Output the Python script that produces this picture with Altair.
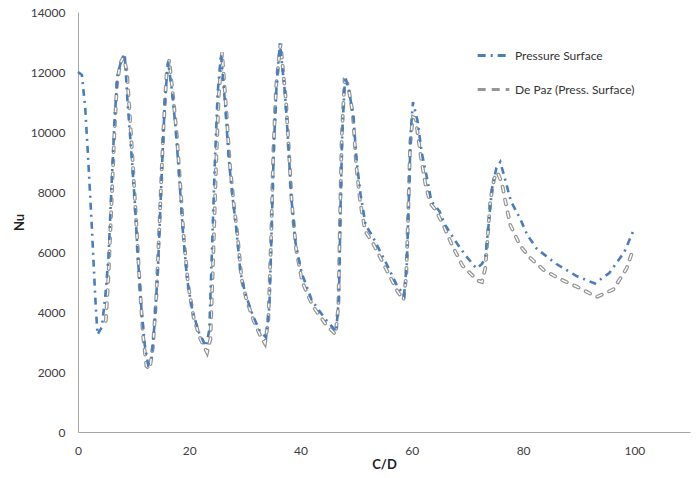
import altair as alt
import pandas as pd

# Pressure Surface (blue, dash-dot)
ps_x = [0, 0.7, 1.3, 1.8, 2.5, 3.1, 3.5, 4.3, 5.0, 5.5, 6.0, 6.6, 7.1, 7.8, 8.4, 8.9, 9.6, 10.2,
        10.8, 11.4, 12.0, 12.6, 13.2, 13.8, 14.4, 15.0, 15.6, 16.2, 17.0, 17.6, 18.2, 18.8, 19.6,
        20.6, 21.8, 23.0, 23.6, 24.1, 24.6, 25.1, 25.7, 26.5, 27.1, 27.8, 28.5, 29.2, 30.1, 31.4,
        32.6, 33.8, 34.4, 34.8, 35.2, 35.7, 36.3, 37.2, 37.8, 38.3, 39.1, 40.2, 42.0, 44.3, 46.4,
        46.9, 47.2, 47.5, 48.0, 48.7, 49.5, 50.1, 50.8, 51.7, 53.0, 55.2, 57.3, 58.6, 59.1, 59.5,
        59.8, 60.2, 61.0, 61.8, 62.8, 63.5, 65.0, 66.0, 67.7, 69.6, 71.6, 72.6, 73.2, 73.8, 74.4,
        75.2, 75.9, 76.8, 77.8, 79.5, 80.8, 82.5, 86.0, 89.6, 92.9, 95.5, 98.2, 99.8]
ps_y = [12000, 11900, 10800, 9200, 6800, 4500, 3250, 3500, 4700, 5900, 8100, 10500, 11900, 12400,
        12600, 11000, 9300, 7700, 5700, 4100, 2900, 2250, 2400, 3700, 5600, 8400, 11000, 12350,
        11200, 10000, 8500, 6800, 5100, 4000, 3300, 2850, 3400, 6200, 9000, 11300, 12600, 10800,
        9100, 7800, 6700, 5300, 4600, 3900, 3400, 3150, 4200, 6700, 9500, 11600, 12950, 11300,
        9600, 7900, 6300, 5300, 4400, 3800, 3350, 4500, 7600, 10000, 11850, 11400, 10500, 9000,
        7900, 6900, 6500, 5700, 4900, 4550, 5600, 8000, 10000, 11000, 10400, 9300, 8400, 7700,
        7350, 6900, 6400, 5900, 5450, 5600, 5800, 6900, 8100, 8800, 9000, 8400, 7700, 7100, 6550,
        6100, 5600, 5200, 4950, 5300, 6000, 6700]

# De Paz (Press. Surface) (gray, dashed)
dp_x = [5.0, 5.5, 6.0, 6.5, 7.0, 7.6, 8.2, 8.8, 9.3, 9.9, 10.5, 11.1, 11.7, 12.3, 12.9, 13.5, 14.1,
        14.7, 15.3, 15.9, 16.4, 17.2, 17.8, 18.4, 19.0, 19.8, 20.8, 22.0, 23.2, 23.8, 24.3, 24.8,
        25.3, 25.9, 26.7, 27.3, 28.0, 28.7, 29.4, 30.3, 31.6, 32.8, 33.6, 34.2, 34.7, 35.1, 35.6,
        36.4, 37.4, 37.9, 38.4, 39.2, 40.3, 42.2, 44.5, 46.3, 46.8, 47.1, 47.4, 47.9, 48.5, 49.4,
        50.0, 50.7, 51.6, 53.0, 55.2, 57.4, 58.5, 59.0, 59.4, 59.7, 60.2, 60.7, 61.6, 62.5, 63.4,
        64.3, 65.9, 67.3, 69.1, 71.8, 72.6, 73.2, 73.6, 74.1, 74.8, 75.4, 76.2, 76.8, 77.7, 79.5,
        81.3, 83.7, 86.6, 89.6, 93.2, 96.2, 98.6, 99.8]
dp_y = [3700, 5300, 7500, 9800, 11600, 12300, 12500, 12000, 10600, 8800, 6900, 4900, 3200, 2200,
        2100, 2900, 4600, 7200, 9900, 11900, 12400, 11000, 9800, 8200, 6500, 4900, 3800, 3100,
        2650, 3100, 5800, 8800, 11200, 12650, 10600, 8900, 7600, 6500, 5100, 4400, 3700, 3200,
        2950, 3700, 6400, 9300, 11500, 12950, 11000, 9400, 7700, 6100, 5000, 4200, 3600, 3250,
        4200, 7200, 9800, 11700, 11600, 10600, 8900, 7700, 6700, 6300, 5500, 4700, 4400, 5200,
        7600, 9600, 10500, 10450, 9200, 8200, 7600, 7400, 6800, 6200, 5550, 5050, 5000, 5450,
        6400, 7700, 8450, 8650, 8300, 7700, 6900, 6200, 5800, 5400, 5100, 4850, 4500, 4750, 5450,
        6100]

series_names = ["Pressure Surface", "De Paz (Press. Surface)"]
x_ticks = [0, 20, 40, 60, 80, 100]
y_ticks = [0, 2000, 4000, 6000, 8000, 10000, 12000, 14000]

BLUE = "#4A7EBB"
GRAY = "#959595"
FONT = "Lato"

df = pd.concat([
    pd.DataFrame({"x": ps_x, "y": ps_y, "series": series_names[0]}),
    pd.DataFrame({"x": dp_x, "y": dp_y, "series": series_names[1]}),
])

x_enc = alt.X("x:Q", scale=alt.Scale(domain=[0, 110], nice=False),
              axis=alt.Axis(title="C/D", values=x_ticks, format="d", grid=False, ticks=False,
                            labelPadding=13, titlePadding=2, domainColor="#A6A6A6",
                            labelFlush=False))
y_enc = alt.Y("y:Q", scale=alt.Scale(domain=[0, 14000], nice=False),
              axis=alt.Axis(title="Nu", values=y_ticks, format="d", grid=False, ticks=False,
                            labelPadding=13, titlePadding=4, domainColor="#A6A6A6"))

color = alt.Color("series:N", scale=alt.Scale(domain=series_names, range=[BLUE, GRAY]),
                  legend=alt.Legend(title=None, orient="none", legendX=398, legendY=26,
                                    symbolType="stroke", symbolSize=1000, symbolStrokeWidth=3,
                                    labelFontSize=12, labelFont=FONT, labelColor="#333333",
                                    rowPadding=10, labelOffset=4))
dash = alt.StrokeDash("series:N", scale=alt.Scale(domain=series_names,
                                                  range=[[8, 5, 2, 5], [8, 6]]),
                      legend=None)

gray_df = df[df.series == series_names[1]]
blue_df = df[df.series == series_names[0]]

legend_layer = alt.Chart(df).mark_line(strokeWidth=0, opacity=0).encode(
    x=x_enc, y=y_enc, color=color, strokeDash=dash, detail="series:N")

gray_outer = alt.Chart(gray_df).mark_line(strokeWidth=3.8, color=GRAY, strokeDash=[5, 8],
                                          strokeCap="round").encode(x=x_enc, y=y_enc)
gray_inner = alt.Chart(gray_df).mark_line(strokeWidth=1.4, color="white", strokeDash=[5, 8],
                                          strokeCap="round").encode(x=x_enc, y=y_enc)
blue_line = alt.Chart(blue_df).mark_line(strokeWidth=2.6, color=BLUE,
                                         strokeDash=[7, 5, 2, 5]).encode(x=x_enc, y=y_enc)

chart = alt.layer(legend_layer, gray_outer, gray_inner, blue_line).properties(
    width=612, height=420,
    autosize=alt.AutoSizeParams(type="none"),
    padding={"left": 78, "top": 12, "right": 9, "bottom": 46},
    background="white",
).configure_view(stroke=None).configure_axis(
    labelFont=FONT, labelFontSize=12, labelColor="#404040",
    titleFont=FONT, titleFontSize=13, titleFontWeight="bold", titleColor="#222222",
)

chart.save("out.html", embed_options={"renderer": "svg", "actions": False})
